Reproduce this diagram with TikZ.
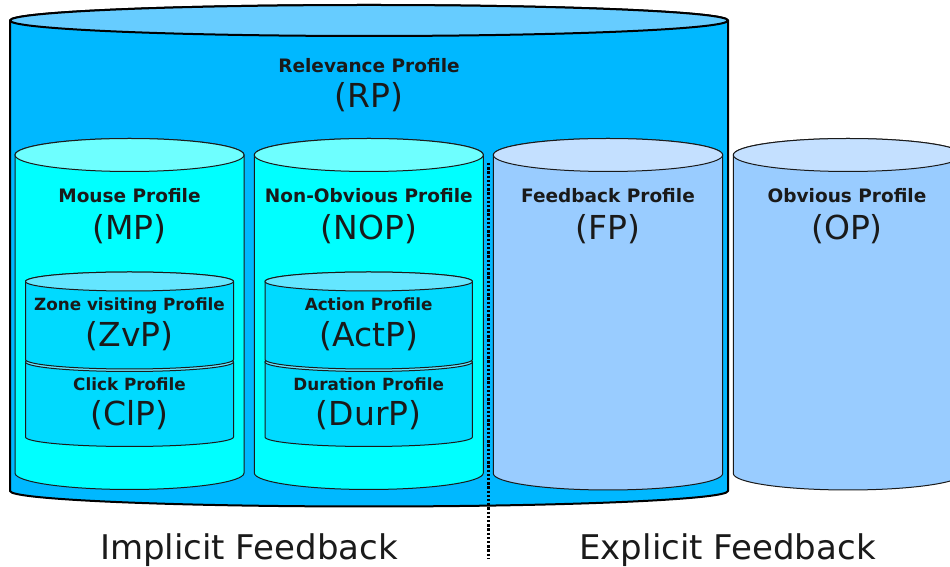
\documentclass[tikz,border=0pt]{standalone}
\usepackage{fontspec}
\setmainfont{DejaVu Sans}

\definecolor{txt}{RGB}{26,26,26}
\definecolor{rpbody}{RGB}{0,184,255}
\definecolor{rptop}{RGB}{102,204,255}
\definecolor{cyanbody}{RGB}{0,255,255}
\definecolor{cyantop}{RGB}{110,255,255}
\definecolor{subbody}{RGB}{0,218,255}
\definecolor{subtop}{RGB}{100,230,255}
\definecolor{bluebody}{RGB}{153,204,255}
\definecolor{bluetop}{RGB}{196,224,255}

% Cylinder: #1 centre x, #2 top-ellipse centre (px from top), #3 bottom-ellipse centre,
% #4 x radius, #5 y radius, #6 body style, #7 lid style
\newcommand\drawcyl[7]{%
  \pgfmathsetmacro\cylT{567-#2}%
  \pgfmathsetmacro\cylB{567-#3}%
  \path[#6] (#1-#4,\cylT) -- (#1-#4,\cylB)
    arc[start angle=180,end angle=360,x radius=#4pt,y radius=#5pt]
    -- (#1+#4,\cylT)
    arc[start angle=0,end angle=180,x radius=#4pt,y radius=#5pt] -- cycle;
  \path[#7] (#1,\cylT) ellipse[x radius=#4pt,y radius=#5pt];
}

\tikzset{
  outer/.style={draw=black,line width=2pt,line join=round},
  inner/.style={draw=txt,line width=1pt,line join=round},
  bigtitle/.style={font=\bfseries\fontsize{18.5}{22}\selectfont,text=txt,anchor=base,inner sep=0pt},
  subtitle/.style={font=\bfseries\fontsize{16.8}{20}\selectfont,text=txt,anchor=base,inner sep=0pt},
  abbr/.style={font=\fontsize{33}{38}\selectfont,text=txt,anchor=base,inner sep=0pt},
  caption/.style={font=\fontsize{34}{40}\selectfont,text=txt,anchor=base,inner sep=0pt},
  divider/.style={draw=black,line width=2.6pt,dash pattern=on 2.4pt off 1.8pt}
}

\begin{document}
\begin{tikzpicture}[x=1pt,y=1pt]
\useasboundingbox (0,0) rectangle (950,567);
\clip (0,0) rectangle (950,567);

% outer relevance cylinder
\drawcyl{369}{20.5}{491}{359}{15.5}{outer,fill=rpbody}{outer,fill=rptop}

% second-level cylinders
\drawcyl{129.5}{155}{473}{114.5}{16.5}{inner,fill=cyanbody}{inner,fill=cyantop}
\drawcyl{368.8}{155}{473}{114.5}{16.5}{inner,fill=cyanbody}{inner,fill=cyantop}
\drawcyl{608}{155}{473.5}{114.7}{16.5}{inner,fill=bluebody}{inner,fill=bluetop}
\drawcyl{848}{155}{473.5}{114.7}{16.5}{inner,fill=bluebody}{inner,fill=bluetop}

% stacked sub-profiles (lower one first)
\drawcyl{129.5}{362}{437}{104}{9.5}{inner,fill=subbody}{inner,fill=subtop}
\drawcyl{129.5}{281.5}{359.5}{104}{9.5}{inner,fill=subbody}{inner,fill=subtop}
\drawcyl{368.7}{362}{437}{103.7}{9.5}{inner,fill=subbody}{inner,fill=subtop}
\drawcyl{368.7}{281.5}{359.5}{103.7}{9.5}{inner,fill=subbody}{inner,fill=subtop}

% implicit / explicit divider
\coordinate (divtop) at (488.5,567-163);
\coordinate (divbot) at (488.5,567-559);
\draw[divider] (divtop) -- (divbot);

% labels
\node[bigtitle] (rpT) at (369,567-72.5) {Relevance Profile};
\node[abbr] (rpA) at (369,567-107.5) {(RP)};

\node[bigtitle] (mpT) at (129.5,567-202.5) {Mouse Profile};
\node[abbr] (mpA) at (129.5,567-240) {(MP)};
\node[bigtitle] (nopT) at (368.8,567-202.5) {Non-Obvious Profile};
\node[abbr] (nopA) at (368.8,567-240) {(NOP)};
\node[bigtitle] (fpT) at (608,567-202.5) {Feedback Profile};
\node[abbr] (fpA) at (608,567-240) {(FP)};
\node[bigtitle] (opT) at (847,567-202.5) {Obvious Profile};
\node[abbr] (opA) at (847,567-240) {(OP)};

\node[subtitle] (zvpT) at (129.5,567-311) {Zone visiting Profile};
\node[abbr] (zvpA) at (129.5,567-346.5) {(ZvP)};
\node[subtitle] (clpT) at (129.5,567-390.5) {Click Profile};
\node[abbr] (clpA) at (129.5,567-426) {(ClP)};
\node[subtitle] (actT) at (368.7,567-311) {Action Profile};
\node[abbr] (actA) at (368.7,567-346.5) {(ActP)};
\node[subtitle] (durT) at (368.7,567-390.5) {Duration Profile};
\node[abbr] (durA) at (368.7,567-426) {(DurP)};

\node[caption] (impl) at (249,567-560) {Implicit Feedback};
\node[caption] (expl) at (727.5,567-560) {Explicit Feedback};
\end{tikzpicture}
\end{document}
